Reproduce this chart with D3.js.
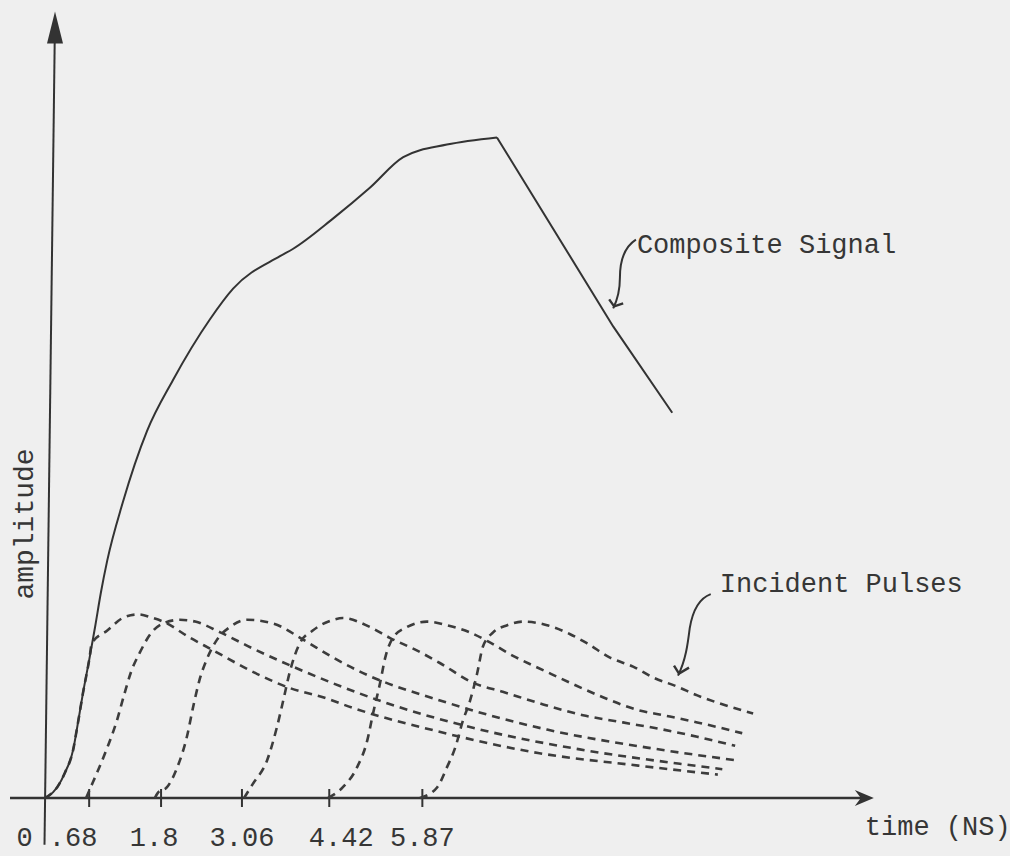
<!DOCTYPE html>
<html>
<head>
<meta charset="utf-8">
<script src="https://cdn.jsdelivr.net/npm/d3@7"></script>
<style>
  body { margin: 0; background: #efefef; }
  svg { display: block; }
  text { font-family: "Liberation Mono", "Courier New", monospace; fill: #363636; }
</style>
</head>
<body>
<svg id="chart"></svg>
<script>
// time in ns, amplitude in pulse-peak units
const tickValues = [0, 0.68, 1.8, 3.06, 4.42, 5.87];
const tickLabels = ["0", ".68", "1.8", "3.06", "4.42", "5.87"];

const composite = [[0,0],[0.05,0.01],[0.19,0.06],[0.31,0.14],[0.44,0.27],[0.50,0.39],[0.59,0.58],[0.69,0.77],
  [0.78,0.95],[0.87,1.14],[0.97,1.32],[1.21,1.64],[1.59,2.04],[1.99,2.32],[2.57,2.66],[2.93,2.83],[3.66,3.01],
  [3.86,3.05],[4.49,3.22],[5.06,3.39],[5.58,3.56],[6.26,3.63],[7.04,3.67],[8.85,2.62],[9.77,2.14]];

const pulse0 = [[0,0],[0.19,0.06],[0.31,0.14],[0.44,0.27],[0.50,0.39],[0.59,0.58],[0.69,0.77],[0.73,0.86],
  [0.97,0.93],[1.21,1.00],[1.45,1.02],[1.68,1.00],[1.84,0.98],[2.26,0.89],[2.57,0.83],[3.30,0.69],[3.82,0.61],
  [4.33,0.56],[4.80,0.50],[6.12,0.37],[7.68,0.25],[9.24,0.18],[10.48,0.13]];
const pulse1 = [[0.64,0],[0.70,0.05],[0.81,0.14],[0.97,0.28],[1.12,0.43],[1.23,0.57],[1.34,0.70],[1.48,0.81],
  [1.64,0.91],[1.84,0.97],[2.10,0.99],[2.34,0.98],[2.73,0.92],[3.24,0.83],[3.86,0.73],[5.22,0.54],[6.78,0.38],
  [8.33,0.27],[9.89,0.19],[10.55,0.16]];
const pulse2 = [[1.71,0],[1.76,0.03],[1.90,0.06],[2.06,0.17],[2.21,0.34],[2.31,0.51],[2.41,0.66],[2.52,0.77],
  [2.68,0.88],[2.88,0.95],[3.15,0.99],[3.55,0.97],[4.02,0.88],[4.44,0.79],[4.86,0.71],[6.26,0.53],[7.82,0.38],
  [9.38,0.28],[10.75,0.21]];
const pulse3 = [[3.10,0],[3.24,0.08],[3.46,0.21],[3.61,0.39],[3.71,0.54],[3.82,0.71],[3.97,0.86],[4.17,0.93],
  [4.49,0.99],[4.64,1.00],[5.06,0.95],[5.37,0.89],[5.79,0.82],[6.15,0.75],[6.67,0.64],[7.13,0.59],[7.76,0.52],
  [8.38,0.46],[9.00,0.42],[9.63,0.38],[10.16,0.34],[10.75,0.29]];
const pulse4 = [[4.41,0],[4.64,0.06],[4.86,0.17],[5.02,0.32],[5.11,0.47],[5.22,0.64],[5.30,0.78],[5.42,0.89],
  [5.64,0.95],[5.95,0.98],[6.26,0.96],[6.62,0.92],[6.90,0.87],[7.29,0.79],[7.82,0.70],[8.18,0.64],[8.69,0.56],
  [9.22,0.49],[9.63,0.46],[10.16,0.42],[10.86,0.36]];
const pulse5 = [[5.84,0],[6.11,0.06],[6.26,0.17],[6.39,0.28],[6.51,0.43],[6.62,0.54],[6.73,0.69],[6.82,0.84],
  [6.98,0.92],[7.20,0.96],[7.45,0.98],[7.82,0.96],[8.18,0.91],[8.44,0.86],[8.80,0.78],[9.16,0.73],[9.47,0.67],
  [9.84,0.62],[10.16,0.57],[10.47,0.53],[11.03,0.47]];
const pulses = [pulse0, pulse1, pulse2, pulse3, pulse4, pulse5];

const chartw = 1010;
const charth = 856;
const ink = "#333";

const svg = d3.select("#chart").attr("width", chartw).attr("height", charth);

const x = d3.scaleLinear().domain([0, 13]).range([45, 45 + 13 * 64.2]);
const y = d3.scaleLinear().domain([0, 4]).range([798, 78]);

// x axis line + arrow
const tipX = x(12.91);
svg.append("line")
  .attr("x1", x(-0.545)).attr("x2", tipX - 6)
  .attr("y1", y(0)).attr("y2", y(0))
  .attr("stroke", ink).attr("stroke-width", 2.4);
svg.append("path")
  .attr("d", `M${tipX - 19},${y(0) - 8} L${tipX},${y(0)} L${tipX - 19},${y(0) + 8} L${tipX - 13},${y(0)} Z`)
  .attr("fill", ink);

// y axis, drawn slightly slanted like the original
const topX = x(0) + 10, topY = y(4.37);
svg.append("line")
  .attr("x1", x(0) - 0.5).attr("y1", y(-0.26))
  .attr("x2", topX).attr("y2", topY + 6)
  .attr("stroke", ink).attr("stroke-width", 2);
svg.append("path")
  .attr("d", `M${topX},${topY} L${topX + 8},${topY + 32} L${topX - 8},${topY + 32} Z`)
  .attr("fill", ink);

// ticks
const labelNudge = { "0": -21, ".68": -16, "1.8": -7, "4.42": 12 };
const xAxis = svg.append("g")
  .attr("transform", `translate(0,${y(0)})`)
  .call(d3.axisBottom(x).tickValues(tickValues).tickFormat((d, i) => tickLabels[i]).tickSize(9));
xAxis.select(".domain").remove();
xAxis.selectAll(".tick line")
  .attr("y1", -9).attr("stroke", ink).attr("stroke-width", 2)
  .attr("display", d => d === 0 ? "none" : null);
xAxis.selectAll(".tick text")
  .attr("y", 48).attr("dy", 0)
  .attr("dx", (d, i) => labelNudge[tickLabels[i]] || 0)
  .attr("font-size", 27)
  .attr("font-family", "Liberation Mono, Courier New, monospace")
  .attr("fill", "#363636");

svg.append("text")
  .attr("x", x(12.77)).attr("y", y(0) + 37)
  .attr("font-size", 27)
  .text("time (NS)");

svg.append("text")
  .attr("transform", `translate(33,524) rotate(-90)`)
  .attr("text-anchor", "middle")
  .attr("font-size", 28)
  .text("amplitude");

// pulses
const line = d3.line().x(d => x(d[0])).y(d => y(d[1])).curve(d3.curveMonotoneX);

svg.append("g").selectAll("path").data(pulses).join("path")
  .attr("d", line)
  .attr("fill", "none")
  .attr("stroke", "#3c3c3c")
  .attr("stroke-width", 2.6)
  .attr("stroke-dasharray", "8,6");

// composite: smooth rise, straight fall after the peak
const peakIdx = d3.maxIndex(composite, d => d[1]);
svg.append("path")
  .datum(composite.slice(0, peakIdx + 1))
  .attr("d", line)
  .attr("fill", "none").attr("stroke", ink).attr("stroke-width", 2);
svg.append("path")
  .datum(composite.slice(peakIdx))
  .attr("d", d3.line().x(d => x(d[0])).y(d => y(d[1])))
  .attr("fill", "none").attr("stroke", ink).attr("stroke-width", 2);

// annotations
const cx = x(9.22), cy = y(3.03);
svg.append("text").attr("x", cx).attr("y", cy).attr("font-size", 27).text("Composite Signal");
const ct = [x(8.85), y(2.72)];
svg.append("path")
  .attr("d", `M${cx - 1},${cy - 13} C${cx - 12},${cy - 6} ${cx - 17},${cy + 8} ${cx - 17},${cy + 25}` +
             ` C${cx - 17},${cy + 40} ${ct[0] + 3},${ct[1] - 6} ${ct[0]},${ct[1]}`)
  .attr("fill", "none").attr("stroke", ink).attr("stroke-width", 2);
svg.append("path")
  .attr("d", `M${ct[0] - 4},${ct[1] - 9} L${ct[0] + 1},${ct[1] - 2} L${ct[0] + 10},${ct[1] - 5}`)
  .attr("fill", "none").attr("stroke", ink).attr("stroke-width", 2.4);

const ix = x(10.51), iy = y(1.144);
svg.append("text").attr("x", ix).attr("y", iy).attr("font-size", 27).text("Incident Pulses");
const it = [x(9.86), y(0.68)];
svg.append("path")
  .attr("d", `M${ix - 9},${iy + 2} C${ix - 20},${iy + 6} ${ix - 27},${iy + 18} ${ix - 30},${iy + 36}` +
             ` C${ix - 32},${iy + 52} ${ix - 34},${iy + 68} ${it[0]},${it[1]}`)
  .attr("fill", "none").attr("stroke", ink).attr("stroke-width", 2);
svg.append("path")
  .attr("d", `M${it[0] - 4},${it[1] - 10} L${it[0] + 1},${it[1] - 2} L${it[0] + 11},${it[1] - 8}`)
  .attr("fill", "none").attr("stroke", ink).attr("stroke-width", 2.4);
</script>
</body>
</html>
